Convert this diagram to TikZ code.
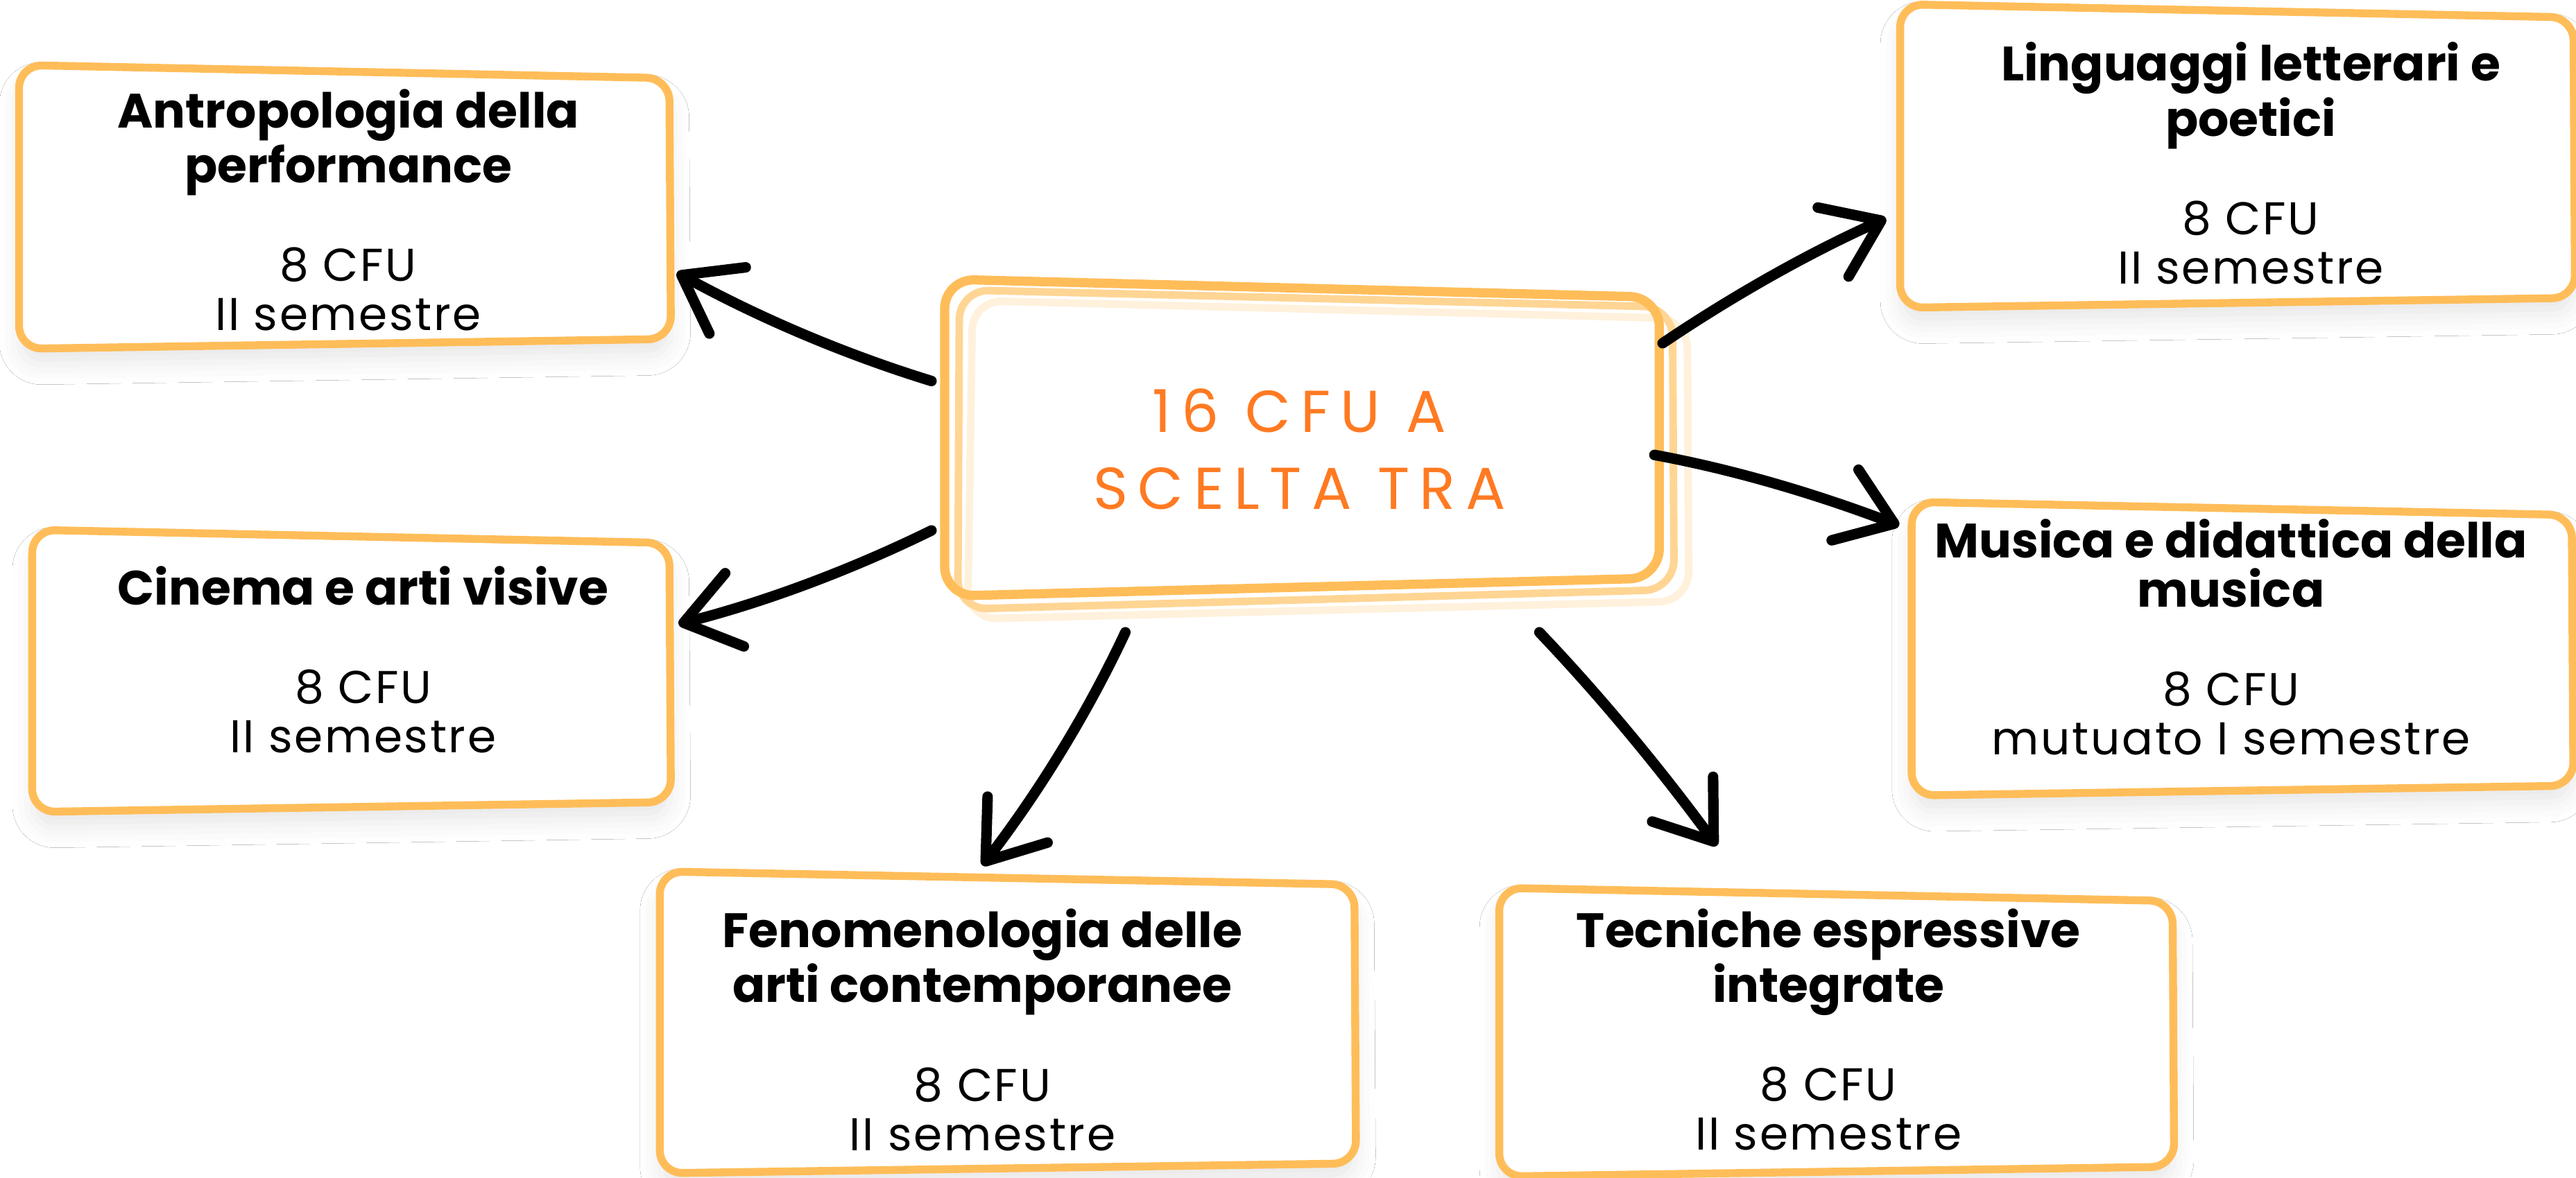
\documentclass[tikz,border=0pt]{standalone}
\usepackage{fontspec}
\setmainfont{Poppins}[LetterSpace=4]
\newfontfamily\headfont[LetterSpace=0]{Poppins Bold}
\newfontfamily\handfont[LetterSpace=17]{Poppins}
\usetikzlibrary{arrows.meta,calc,shadows.blur}
\definecolor{cardorange}{HTML}{FFBD59}
\definecolor{ctrA}{HTML}{FFBD59}
\definecolor{ctrB}{HTML}{FFD594}
\definecolor{ctrC}{HTML}{FFF1DC}
\definecolor{titleorange}{HTML}{FF7A22}
\tikzset{
  cardarea/.style={rectangle, inner sep=0pt, draw=none},
  cardline/.style={draw=cardorange, line width=2.4pt, rounded corners=7pt, fill=white, line join=round,
    blur shadow={shadow xshift=0pt, shadow yshift=-5pt, shadow opacity=9, shadow blur radius=6pt}},
  cardtext/.style={align=center, font=\fontsize{14}{15}\selectfont, inner sep=0pt},
  ctrline/.style={line width=2.3pt, rounded corners=9pt, line join=round},
  conn/.style={line width=3.2pt, line cap=round, -{Straight Barb[length=16pt,width=23pt,round]}},
}
\newcommand\hd[1]{{\headfont\fontsize{14.7}{15}\selectfont #1}}
\newcommand\cardedge[1]{\path[cardline] ($(#1.north west)+(0,-3)$) -- ($(#1.north east)+(0,5)$) -- ($(#1.south east)+(1,-4)$) -- ($(#1.south west)+(0,2)$) -- cycle;}
\begin{document}
\begin{tikzpicture}[x=0.5pt,y=-0.5pt]
\fill[white] (0,0) rectangle (1568,717);
\useasboundingbox (0,0) rectangle (1568,717);

% card areas
\node[cardarea, minimum width=197.5pt, minimum height=83.5pt] (A) at (209.5,126.5) {};
\node[cardarea, minimum width=193.5pt, minimum height=83pt] (C) at (213.5,409) {};
\node[cardarea, minimum width=211pt, minimum height=89pt] (F) at (613,623) {};
\node[cardarea, minimum width=204.5pt, minimum height=85pt] (T) at (1117.5,629) {};
\node[cardarea, minimum width=200.5pt, minimum height=86.5pt] (M) at (1364.5,395.5) {};
\node[cardarea, minimum width=204.5pt, minimum height=89.5pt] (L) at (1361.5,95.5) {};
\node[cardarea, minimum width=217.5pt, minimum height=96.5pt] (ctr) at (792.5,266.5) {};

\cardedge{A}
\cardedge{C}
\cardedge{F}
\cardedge{T}
\cardedge{M}
\cardedge{L}

% centre box: three hand-drawn outlines
\draw[ctrline, draw=ctrC] (592,183) -- (1027,194) -- (1028,366) -- (589,377) -- cycle;
\draw[ctrline, draw=ctrB] (584,176.5) -- (1018,187) -- (1019,359) -- (583,371) -- cycle;
\draw[ctrline, draw=ctrA, line width=2.8pt] (575,170) -- (1010,181) -- (1010,352) -- (575,363) -- cycle;

\node[align=center, text=titleorange, font=\handfont\fontsize{18}{23.5}\selectfont, inner sep=0pt] (ctrtext) at (791,273.5) {16 CFU A\\SCELTA TRA};

% card texts
\node[cardtext] (At) at (212,128) {\hd{Antropologia della}\\\hd{performance}\\[15pt]8 CFU\\II semestre};
\node[cardtext] (Ct) at (221,401.5) {\hd{Cinema e arti visive}\\[15pt]8 CFU\\II semestre};
\node[cardtext] (Ft) at (598,627) {\hd{Fenomenologia delle}\\\hd{arti contemporanee}\\[15pt]8 CFU\\II semestre};
\node[cardtext] (Tt) at (1113,627) {\hd{Tecniche espressive}\\\hd{integrate}\\[15pt]8 CFU\\II semestre};
\node[cardtext] (Mt) at (1358,388) {\hd{Musica e didattica della}\\\hd{musica}\\[15pt]8 CFU\\mutuato I semestre};
\node[cardtext] (Lt) at (1370,99.5) {\hd{Linguaggi letterari e}\\\hd{poetici}\\[15pt]8 CFU\\II semestre};

% connectors
\draw[conn] ($(ctr.center)+(-225.5,-34.5)$) .. controls +(-52,-16) and +(51,28) .. ($(A.center)+(202.5,39.5)$);
\draw[conn] ($(ctr.center)+(-225.5,56.5)$) .. controls +(-51,25) and +(51,-13) .. ($(C.center)+(199.5,-29)$);
\draw[conn] ($(ctr.center)+(-107.5,118.5)$) .. controls +(-22,47) and +(36,-47) .. ($(F.center)+(-15,-96)$);
\draw[conn] ($(ctr.center)+(144.5,118.5)$) .. controls +(39,41) and +(-33,-45) .. ($(T.center)+(-72.5,-114)$);
\draw[conn] ($(ctr.center)+(214.5,10.5)$) .. controls +(49,9) and +(-50,-19) .. ($(M.center)+(-208.5,-75.5)$);
\draw[conn] ($(ctr.center)+(219.5,-57.5)$) .. controls +(43,-29) and +(-47,21) .. ($(L.center)+(-213.5,37.5)$);
\end{tikzpicture}
\end{document}
